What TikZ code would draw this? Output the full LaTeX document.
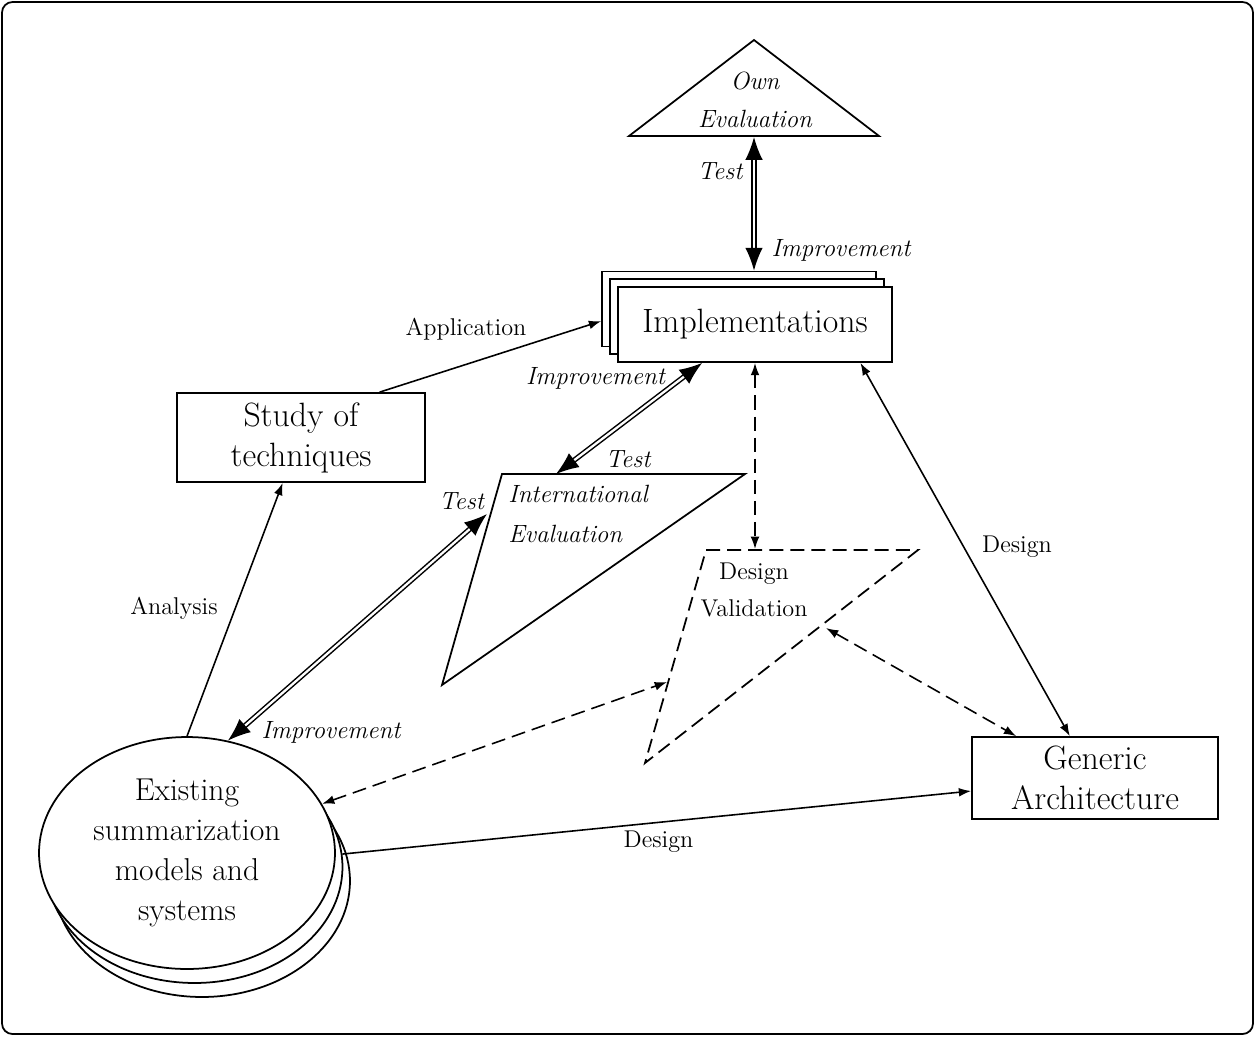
\documentclass[tikz,border=0pt]{standalone}
\usetikzlibrary{arrows.meta,shapes.geometric}
\begin{document}
\begin{tikzpicture}[x=0.02cm,y=-0.02cm,
  shp/.style={draw,line width=1pt,fill=white},
  bigtxt/.style={font=\fontsize{19.2}{22.7}\selectfont,align=center,inner sep=0pt},
  elltxt/.style={font=\fontsize{18}{22.7}\selectfont,align=center,inner sep=0pt},
  lbl/.style={font=\fontsize{13.8}{16}\selectfont,inner sep=0pt},
  ilbl/.style={font=\fontsize{14.2}{16}\selectfont\itshape,inner sep=0pt},
  dbl/.style={line width=0.85pt,double,double distance=1.3pt,
     {Latex[length=13pt,width=10pt]}-{Latex[length=13pt,width=10pt]}},
  sgl/.style={line width=0.9pt,-{Latex[length=7pt,width=5pt]}},
  dsh/.style={line width=0.9pt,dash pattern=on 8pt off 4pt,
     {Latex[length=7pt,width=5pt]}-{Latex[length=7pt,width=5pt]}},
  dshline/.style={line width=1pt,dash pattern=on 8pt off 4pt},
  sgldbl/.style={line width=0.9pt,{Latex[length=7pt,width=5pt]}-{Latex[length=7pt,width=5pt]}}
]
\useasboundingbox (0,0) rectangle (1255,1036);
\draw[line width=1pt,rounded corners=6pt] (2,2) rectangle (1253,1034);

% Own Evaluation triangle
\coordinate (oeA) at (754,40);
\coordinate (oeL) at (629,136);
\coordinate (oeR) at (879,136);
\coordinate (oeB) at (754,137);
\draw[line width=1pt] (oeA) -- (oeL) -- (oeR) -- cycle;
\node[ilbl,align=center,font=\fontsize{14.2}{21.5}\selectfont\itshape] (oeT) at (755,100) {Own\\Evaluation};

% Implementations (stacked)
\node[shp,minimum width=5.48cm,minimum height=1.5cm] (implC) at (739,309) {};
\node[shp,minimum width=5.48cm,minimum height=1.5cm] (implB) at (747,316.5) {};
\node[shp,bigtxt,minimum width=5.48cm,minimum height=1.5cm] (impl) at (755,324.5) {Implementations};

% Study of techniques
\node[shp,bigtxt,minimum width=4.96cm,minimum height=1.78cm] (study) at (301,437.5) {Study of\\techniques};

% Generic Architecture
\node[shp,bigtxt,minimum width=4.92cm,minimum height=1.64cm] (gen) at (1095,778) {Generic\\Architecture};

% Existing models (stacked ellipses)
\node[shp,ellipse,inner sep=0pt,minimum width=5.92cm,minimum height=4.64cm] (ellC) at (202,881) {};
\node[shp,ellipse,inner sep=0pt,minimum width=5.92cm,minimum height=4.64cm] (ellB) at (194.5,867) {};
\node[shp,ellipse,elltxt,minimum width=5.92cm,minimum height=4.64cm] (ell) at (187,853) {Existing\\summarization\\models and\\systems};

% International Evaluation triangle
\coordinate (ieA) at (502,474);
\coordinate (ieB) at (745,474);
\coordinate (ieC) at (442,685);
\coordinate (ieTop) at (556,474);
\coordinate (ieL) at (487,514);
\draw[line width=1pt] (ieA) -- (ieB) -- (ieC) -- cycle;
\node[ilbl,align=left,anchor=west,font=\fontsize{14.2}{22.7}\selectfont\itshape] (ieT) at (508,514) {International\\Evaluation};

% Design Validation triangle
\coordinate (dvA) at (706,550);
\coordinate (dvB) at (918,550);
\coordinate (dvC) at (645,763);
\coordinate (dvTop) at (755,549);
\coordinate (dvL) at (667,682);
\coordinate (dvR) at (826,628);
\draw[dshline] (dvA) -- (dvB) -- (dvC) -- cycle;
\node[lbl,align=center,font=\fontsize{13.8}{21.5}\selectfont] (dvT) at (754,590) {Design\\Validation};

% connectors
\draw[dbl] (oeB) -- (oeB |- implC.north);
\draw[sgl] (study.30) -- (implC.185);
\draw[dbl] (impl.216.5) -- (ieTop);
\draw[dbl] (ell.70) -- (ieL);
\draw[dsh] (impl.south) -- (dvTop);
\draw[dsh] (ell.20) -- (dvL);
\draw[dsh] (dvR) -- (gen.152);
\draw[sgldbl] (impl.-20) -- (gen.121);
\draw[sgl] (ellB.5) -- (gen.186);
\draw[sgl] (ell.north) -- (study.248);

% labels
\node[ilbl] (l1) at (720,171) {Test};
\node[ilbl] (l2) at (841,250) {Improvement};
\node[lbl] (l3) at (466,329) {Application};
\node[ilbl] (l4) at (595.5,378) {Improvement};
\node[ilbl] (l5) at (628,459) {Test};
\node[ilbl] (l6) at (461.5,501.5) {Test};
\node[lbl] (l7) at (174,608) {Analysis};
\node[ilbl] (l8) at (331,732) {Improvement};
\node[lbl] (l9) at (1017,547) {Design};
\node[lbl] (l10) at (658.5,842) {Design};
\end{tikzpicture}
\end{document}
